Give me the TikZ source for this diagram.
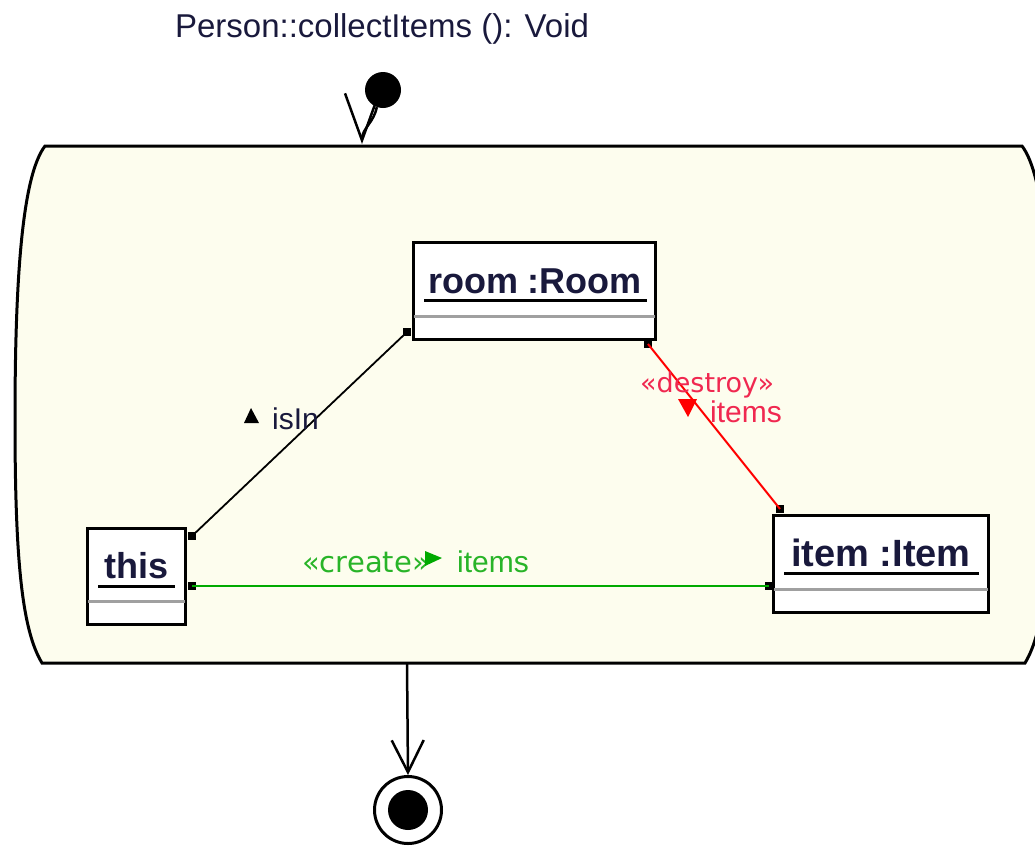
\documentclass[tikz,border=0pt]{standalone}
\usepackage{fontspec}
\setmainfont{Liberation Sans}
\newfontfamily\stereofont{DejaVu Sans}
\usetikzlibrary{arrows.meta,calc}
\definecolor{ink}{RGB}{25,25,60}
\definecolor{actfill}{RGB}{253,253,238}
\definecolor{grn}{RGB}{0,170,0}
\definecolor{grntext}{RGB}{40,180,40}
\definecolor{rd}{RGB}{255,0,0}
\definecolor{rdtext}{RGB}{240,40,80}
\definecolor{sepgray}{RGB}{160,160,160}
\begin{document}
\begin{tikzpicture}[x=1pt,y=-1pt,
  obj/.style={draw=black, line width=3pt, fill=white, rectangle, inner sep=0pt},
  boxtext/.style={inner sep=0pt, anchor=base, text=ink, font=\fontsize{36}{43}\selectfont\bfseries},
  lbl/.style={inner sep=0pt, anchor=base west, font=\fontsize{30}{36}\selectfont},
  stereo/.style={inner sep=0pt, anchor=base west, font=\stereofont\fontsize{27}{32}\selectfont},
  marker/.style={fill=black, inner sep=0pt, minimum size=8pt, rectangle},
  uline/.style={line width=3pt, black},
  sepline/.style={line width=3pt, sepgray},
  flow/.style={line width=2.5pt, black}
]
\useasboundingbox (0,0) rectangle (1035,846);

% activity region
\draw[line width=3pt, fill=actfill]
  (45,146) -- (1022,146)
  .. controls (1045,176) and (1052,280) .. (1052,420)
  .. controls (1052,560) and (1045,630) .. (1025,663)
  -- (42,663)
  .. controls (22,630) and (15,560) .. (15,420)
  .. controls (15,280) and (22,176) .. (45,146) -- cycle;

% title
\node[inner sep=0pt, anchor=base, text=ink, font=\fontsize{33}{40}\selectfont] (title) at (382,37) {Person::collectItems (): Void};

% start
\node[circle, fill=black, minimum size=36pt, inner sep=0pt] (start) at (383,90) {};
\coordinate (acttop) at (362,144);
\draw[flow, -{Straight Barb[length=47pt,width=34pt]}] (start.250) to[out=-100,in=90] (acttop);

% final
\coordinate (actbot) at (407,664);
\node[circle, draw=black, line width=3pt, fill=white, minimum size=67pt, inner sep=0pt] (final) at (408,810) {};
\node[circle, fill=black, minimum size=40pt, inner sep=0pt] (finaldot) at (final.center) {};
\draw[flow, -{Straight Barb[length=32pt,width=32pt]}] (actbot) -- (final.north);

% objects
\node[obj, minimum width=242pt, minimum height=97pt] (room) at (534.5,291) {};
\node[boxtext] (roomlbl) at (535,293) {room :Room};
\draw[uline] (424,300) -- (647,300);
\draw[sepline] (414,316) -- (655,316);

\node[obj, minimum width=98pt, minimum height=96pt] (this) at (136.5,576.5) {};
\node[boxtext] (thislbl) at (136.5,578) {this};
\draw[uline] (98,586) -- (175,586);
\draw[sepline] (88,601) -- (185,601);

\node[obj, minimum width=215pt, minimum height=97pt] (item) at (881,564) {};
\node[boxtext, font=\fontsize{38}{45}\selectfont\bfseries] (itemlbl) at (881,566) {item :Item};
\draw[uline] (784,573) -- (979,573);
\draw[sepline] (774,589) -- (988,589);

% isIn link
\node[marker] (m1) at (192,536) {};
\node[marker] (m2) at (407,332) {};
\draw[line width=1.8pt, black] (m1.center) -- (m2.center);
\fill[black] (251,408) -- (259,423) -- (244,423) -- cycle;
\node[lbl, text=ink] (isin) at (272,429) {isIn};

% create link
\node[marker] (m3) at (192,586) {};
\node[marker] (m4) at (769,586) {};
\draw[grn, line width=2.2pt] (m3.center) -- (m4.center);
\node[stereo, text=grntext, font=\stereofont\fontsize{29}{34}\selectfont] (create) at (302,572) {«create»};
\fill[grn] (425,551) -- (442,558) -- (425,566) -- cycle;
\node[lbl, text=grntext] (items1) at (457,572) {items};

% destroy link
\node[marker] (m5) at (648,344) {};
\node[marker] (m6) at (780,509) {};
\draw[rd, line width=2pt] (m5.center) -- (m6.center);
\node[stereo, text=rdtext] (destroy) at (640,392) {«destroy»};
\fill[rd] (678,399) -- (697,399) -- (688,417) -- cycle;
\node[lbl, text=rdtext] (items2) at (710,422) {items};
\end{tikzpicture}
\end{document}
